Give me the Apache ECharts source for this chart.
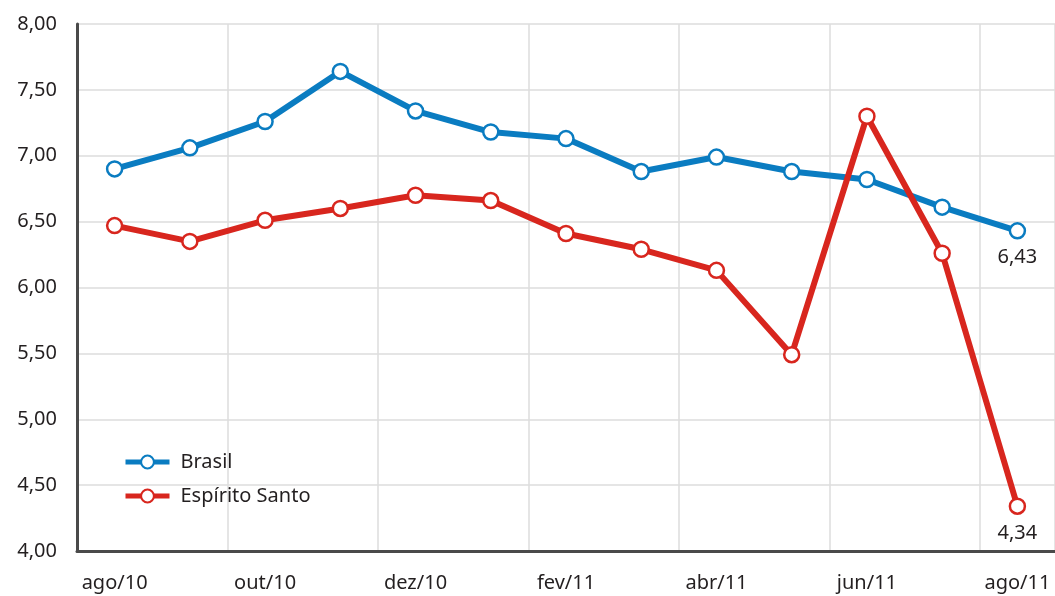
<!DOCTYPE html>
<html>
<head>
<meta charset="utf-8">
<script src="https://cdn.jsdelivr.net/npm/echarts@6/dist/echarts.min.js"></script>
<style>
  html, body { margin: 0; padding: 0; background: #fff; }
  #chart { width: 1055px; height: 596px; }
</style>
</head>
<body>
<div id="chart"></div>
<script>
const months = ['ago/10', 'set/10', 'out/10', 'nov/10', 'dez/10', 'jan/11', 'fev/11',
  'mar/11', 'abr/11', 'mai/11', 'jun/11', 'jul/11', 'ago/11']
const brasil = [6.90, 7.06, 7.26, 7.64, 7.34, 7.18, 7.13, 6.88, 6.99, 6.88, 6.82, 6.61, 6.43]
const espiritoSanto = [6.47, 6.35, 6.51, 6.60, 6.70, 6.66, 6.41, 6.29, 6.13, 5.49, 7.30, 6.26, 4.34]

const fmt = v => v.toFixed(2).replace('.', ',')
const font = '"Noto Sans", "Open Sans", sans-serif'

const lineSeries = (name, data, color) => ({
  name: name,
  type: 'line',
  data: data,
  symbol: 'circle',
  symbolSize: 15,
  lineStyle: { width: 6, color: color },
  itemStyle: { color: '#fff', borderColor: color, borderWidth: 2.5 },
  label: {
    show: true,
    position: 'bottom',
    distance: 8,
    color: '#231f20',
    fontSize: 20,
    fontFamily: font,
    formatter: p => (p.dataIndex === data.length - 1 ? fmt(p.value) : '')
  },
  emphasis: { disabled: true }
})

const chart = echarts.init(document.getElementById('chart'))
chart.setOption({
  animation: false,
  backgroundColor: '#fff',
  grid: { left: 77, right: 0, top: 24, bottom: 45 },
  legend: {
    orient: 'vertical',
    left: 118,
    top: 447,
    itemWidth: 44,
    itemHeight: 16,
    itemGap: 14,
    lineStyle: { width: 5 },
    textStyle: { fontSize: 20, color: '#231f20', fontFamily: font, padding: [0, 0, 0, 6] },
    data: ['Brasil', 'Espírito Santo']
  },
  xAxis: {
    type: 'category',
    data: months,
    boundaryGap: true,
    axisLine: { lineStyle: { color: '#4a4a4a', width: 3 } },
    axisTick: { show: false },
    axisLabel: { interval: 1, margin: 22, fontSize: 20, color: '#231f20', fontFamily: font },
    splitLine: { show: true, interval: 1, lineStyle: { color: '#dcdcdc', width: 1.5 } }
  },
  yAxis: {
    type: 'value',
    min: 4,
    max: 8,
    interval: 0.5,
    axisLine: { show: true, lineStyle: { color: '#4a4a4a', width: 3 } },
    axisTick: { show: false },
    axisLabel: { margin: 20, fontSize: 20, color: '#231f20', fontFamily: font, formatter: fmt },
    splitLine: { lineStyle: { color: '#dcdcdc', width: 1.5 } }
  },
  series: [
    lineSeries('Brasil', brasil, '#0a7cc1'),
    lineSeries('Espírito Santo', espiritoSanto, '#d8261e')
  ]
})
</script>
</body>
</html>
